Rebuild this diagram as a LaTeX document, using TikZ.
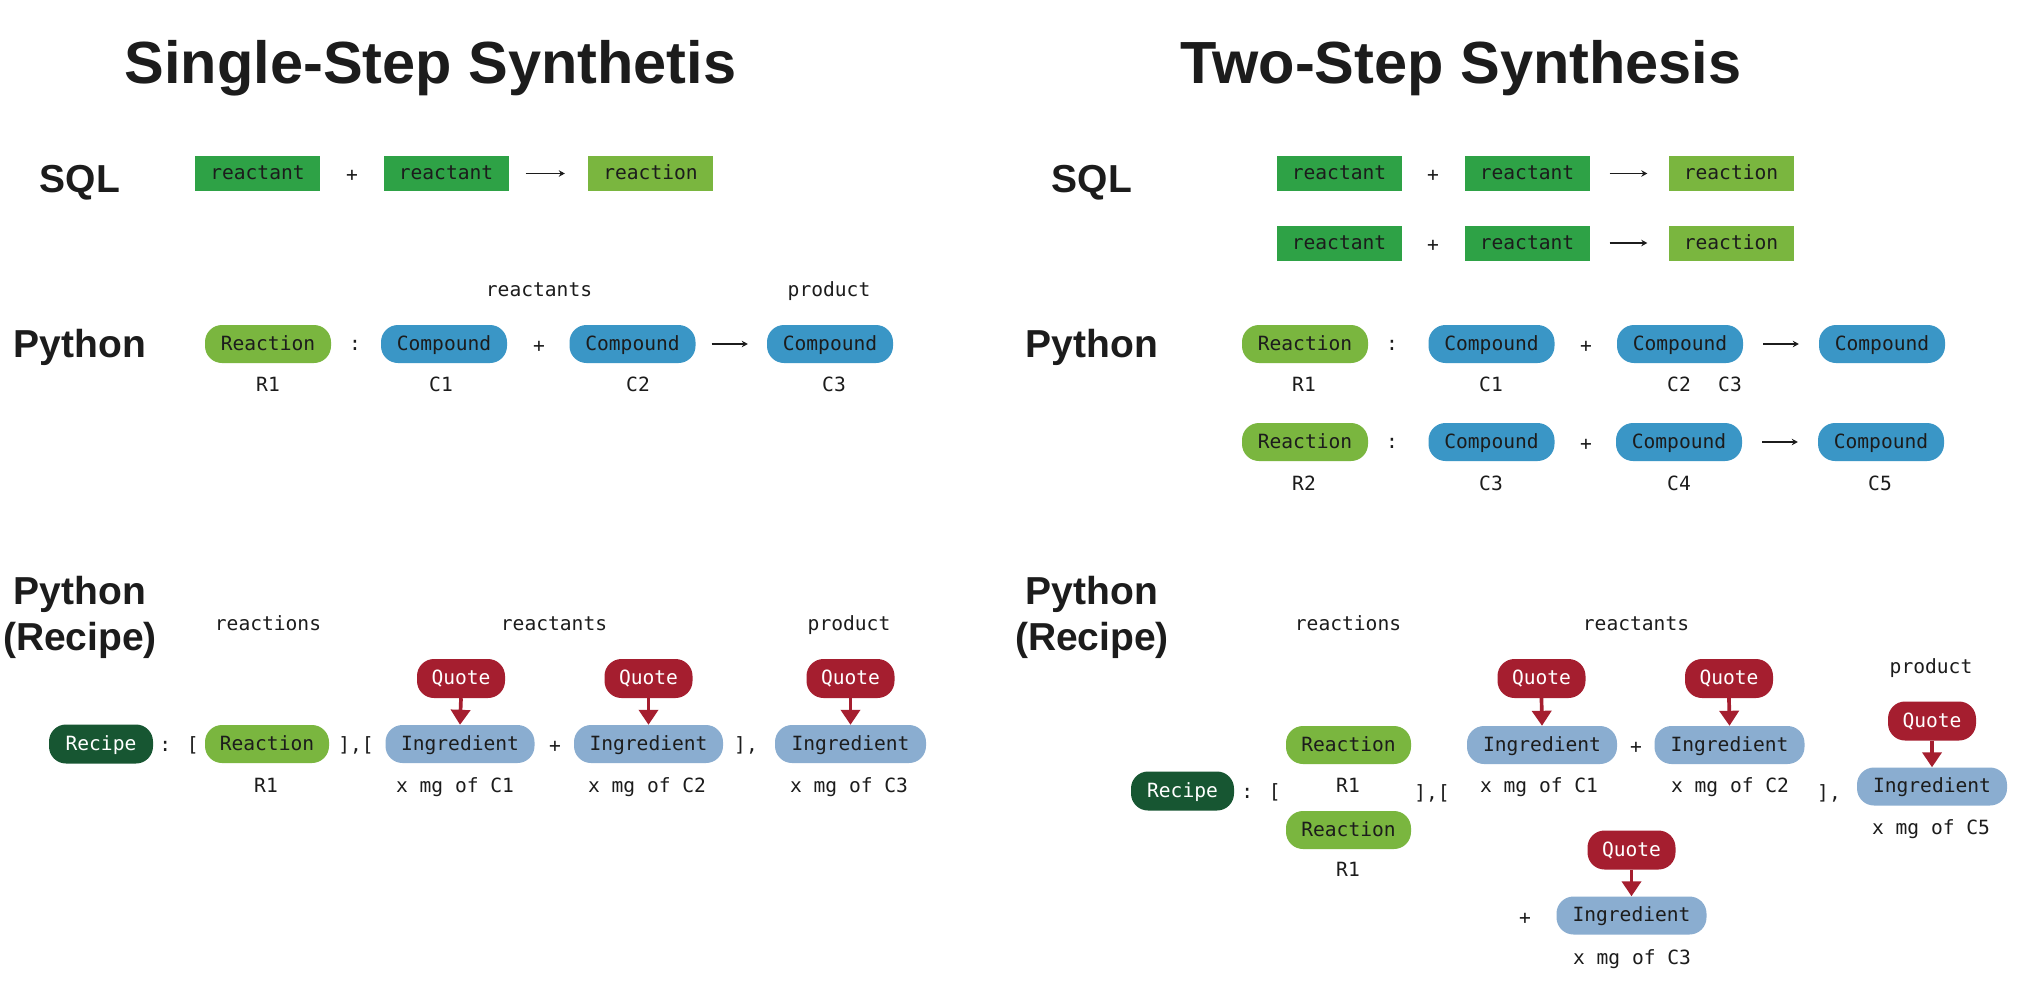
\documentclass[tikz,border=0pt]{standalone}
\usepackage{fontspec}
\newfontfamily\hel{Liberation Sans}
\newfontfamily\mono{DejaVu Sans Mono}
\usetikzlibrary{arrows.meta}
\definecolor{ink}{HTML}{1C1C1C}
\definecolor{sqlg}{HTML}{2EA246}
\definecolor{rxng}{HTML}{7AB63F}
\definecolor{cmpb}{HTML}{3A96C6}
\definecolor{ingb}{HTML}{8AADD0}
\definecolor{qred}{HTML}{A51E2F}
\definecolor{recg}{HTML}{175632}
\begin{document}
\begin{tikzpicture}[x=1pt,y=-1pt,
  mtxt/.style={font=\mono\fontsize{19.6}{23}\selectfont, text height=15pt, text depth=3pt, inner sep=0pt, text=ink},
  sqlbox/.style={mtxt, rectangle, minimum width=125pt, minimum height=35pt},
  sqlr/.style={sqlbox, fill=sqlg},
  sqlx/.style={sqlbox, fill=rxng},
  pill/.style={mtxt, rounded corners=17pt, minimum height=38pt},
  rxn/.style={pill, fill=rxng, minimum width=126pt},
  cmp/.style={pill, fill=cmpb, minimum width=126pt},
  ing/.style={pill, fill=ingb, minimum width=149pt},
  quote/.style={pill, fill=qred, text=white, minimum width=88pt, minimum height=39pt},
  recipe/.style={pill, fill=recg, text=white, minimum width=104pt, minimum height=39pt},
  ttl/.style={font=\hel\bfseries\fontsize{59.5}{70}\selectfont, anchor=base, inner sep=0pt, text=ink},
  rowlbl/.style={font=\hel\bfseries\fontsize{39}{46}\selectfont, anchor=base, inner sep=0pt, text=ink},
  sqlarr/.style={-{Stealth[length=6pt,width=6.5pt]}, line width=1.8pt, draw=ink},
  qarr/.style={-{Triangle[length=15pt,width=19pt]}, line width=3.7pt, draw=qred}
]
\fill[white] (0,0) rectangle (2018,1001);
\useasboundingbox (0,0) rectangle (2018,1001);

% ---------- titles ----------
\node[ttl] (t1) at (430.5,83) {Single-Step Synthetis};
\node[ttl] (t2) at (1461,83) {Two-Step Synthesis};

% ---------- row labels ----------
\node[rowlbl] (lsql) at (80,192) {SQL};
\node[rowlbl] (lpy) at (80,357) {Python};
\node[rowlbl] (lrec1) at (80,604) {Python};
\node[rowlbl] (lrec2) at (80,650) {(Recipe)};
\node[rowlbl] (rsql) at (1092,192) {SQL};
\node[rowlbl] (rpy) at (1092,357) {Python};
\node[rowlbl] (rrec1) at (1092,604) {Python};
\node[rowlbl] (rrec2) at (1092,650) {(Recipe)};

% ================= LEFT =================
% SQL
\node[sqlr] (ls1) at (257.5,173.5) {reactant};
\node[mtxt] (lsp) at (352,175) {+};
\node[sqlr] (ls2) at (446,173.5) {reactant};
\node[sqlx] (ls3) at (650.5,173.5) {reaction};
\draw[sqlarr, shorten <=17pt, shorten >=23pt] (ls2.east) -- (ls3.west);

% Python
\node[mtxt] (lreactants) at (539,290) {reactants};
\node[mtxt] (lproduct) at (829,290) {product};
\node[rxn] (lpr) at (268,344) {Reaction};
\node[mtxt] (lpc) at (355,344) {:};
\node[cmp] (lpc1) at (444,344) {Compound};
\node[mtxt] (lpp) at (539,346) {+};
\node[cmp] (lpc2) at (632.5,344) {Compound};
\node[cmp] (lpc3) at (830,344) {Compound};
\draw[sqlarr, shorten <=16pt, shorten >=19pt] (lpc2.east) -- (lpc3.west);
\node[mtxt] (lplR1) at (268,385) {R1};
\node[mtxt] (lplC1) at (441,385) {C1};
\node[mtxt] (lplC2) at (638,385) {C2};
\node[mtxt] (lplC3) at (834,385) {C3};

% Recipe
\node[mtxt] (lreactions) at (268,624) {reactions};
\node[mtxt] (lreactants2) at (554,624) {reactants};
\node[mtxt] (lproduct2) at (849,624) {product};
\node[recipe] (lrecipe) at (101,744) {Recipe};
\node[mtxt] (lcolon) at (179,745) {: [};
\node[rxn, minimum width=124pt] (lrr) at (267,744) {Reaction};
\node[mtxt] (lsep1) at (356,745) {],[};
\node[ing] (li1) at (460,744) {Ingredient};
\node[mtxt] (lplus) at (555,746) {+};
\node[ing] (li2) at (648.5,744) {Ingredient};
\node[mtxt] (lsep2) at (746,745) {],};
\node[ing, minimum width=151pt] (li3) at (850.5,744) {Ingredient};
\node[quote] (lq1) at (461,678.5) {Quote};
\node[quote] (lq2) at (648.5,678.5) {Quote};
\node[quote] (lq3) at (850.5,678.5) {Quote};
\draw[qarr] (lq1.south) -- (li1.north);
\draw[qarr] (lq2.south) -- (li2.north);
\draw[qarr] (lq3.south) -- (li3.north);
\node[mtxt] (llR1) at (266,786) {R1};
\node[mtxt] (llC1) at (455,786) {x mg of C1};
\node[mtxt] (llC2) at (647,786) {x mg of C2};
\node[mtxt] (llC3) at (849,786) {x mg of C3};

% ================= RIGHT =================
% SQL
\node[sqlr] (rs1) at (1339,173.5) {reactant};
\node[mtxt] (rsp) at (1433,175) {+};
\node[sqlr] (rs2) at (1527,173.5) {reactant};
\node[sqlx] (rs3) at (1731,173.5) {reaction};
\draw[sqlarr, shorten <=20pt, shorten >=21pt] (rs2.east) -- (rs3.west);
\node[sqlr] (rt1) at (1339,243) {reactant};
\node[mtxt] (rtp) at (1433,245) {+};
\node[sqlr] (rt2) at (1527,243) {reactant};
\node[sqlx] (rt3) at (1731,243) {reaction};
\draw[sqlarr, shorten <=20pt, shorten >=21pt] (rt2.east) -- (rt3.west);

% Python row 1
\node[rxn] (rpr) at (1305,344) {Reaction};
\node[mtxt] (rpc) at (1392,344) {:};
\node[cmp] (rpc1) at (1491.5,344) {Compound};
\node[mtxt] (rpp) at (1586,346) {+};
\node[cmp] (rpc2) at (1680,344) {Compound};
\node[cmp] (rpc3) at (1882,344) {Compound};
\draw[sqlarr, shorten <=20pt, shorten >=20pt] (rpc2.east) -- (rpc3.west);
\node[mtxt] (rplR1) at (1304,385) {R1};
\node[mtxt] (rplC1) at (1491,385) {C1};
\node[mtxt] (rplC2) at (1679,385) {C2};
\node[mtxt] (rplC3) at (1730,385) {C3};

% Python row 2
\node[rxn] (rqr) at (1305,442) {Reaction};
\node[mtxt] (rqc) at (1392,442) {:};
\node[cmp] (rqc1) at (1491.5,442) {Compound};
\node[mtxt] (rqp) at (1586,444) {+};
\node[cmp] (rqc2) at (1679,442) {Compound};
\node[cmp] (rqc3) at (1881,442) {Compound};
\draw[sqlarr, shorten <=20pt, shorten >=20pt] (rqc2.east) -- (rqc3.west);
\node[mtxt] (rqlR2) at (1304,484) {R2};
\node[mtxt] (rqlC3) at (1491,484) {C3};
\node[mtxt] (rqlC4) at (1679,484) {C4};
\node[mtxt] (rqlC5) at (1880,484) {C5};

% Recipe
\node[mtxt] (rreactions) at (1348,624) {reactions};
\node[mtxt] (rreactants) at (1636,624) {reactants};
\node[mtxt] (rproduct) at (1931,667) {product};
\node[recipe, minimum width=103pt] (rrecipe) at (1182.5,791) {Recipe};
\node[mtxt] (rcolon) at (1261,792) {: [};
\node[rxn, minimum width=125pt] (rr1) at (1348.5,745) {Reaction};
\node[mtxt] (rr1l) at (1348,786) {R1};
\node[rxn, minimum width=125pt] (rr2) at (1348.5,830) {Reaction};
\node[mtxt] (rr2l) at (1348,870) {R1};
\node[mtxt] (rsep1) at (1432,793) {],[};
\node[ing, minimum width=150pt] (ri1) at (1542,745) {Ingredient};
\node[mtxt] (rplus1) at (1636,747) {+};
\node[ing, minimum width=150pt] (ri2) at (1729.5,745) {Ingredient};
\node[quote] (rq1) at (1541.5,678.5) {Quote};
\node[quote] (rq2) at (1729,678.5) {Quote};
\draw[qarr] (rq1.south) -- (ri1.north);
\draw[qarr] (rq2.south) -- (ri2.north);
\node[mtxt] (rlC1) at (1539,786) {x mg of C1};
\node[mtxt] (rlC2) at (1730,786) {x mg of C2};
\node[mtxt] (rsep2) at (1829,793) {],};
\node[quote] (rq3) at (1932,721) {Quote};
\node[ing, minimum width=150pt] (ri3) at (1932,786.5) {Ingredient};
\draw[qarr] (rq3.south) -- (ri3.north);
\node[mtxt] (rlC5) at (1931,828) {x mg of C5};
\node[quote] (rq4) at (1631.5,850) {Quote};
\node[ing, minimum width=150pt] (ri4) at (1631.5,915.5) {Ingredient};
\draw[qarr] (rq4.south) -- (ri4.north);
\node[mtxt] (rplus2) at (1525,918) {+};
\node[mtxt] (rlC3) at (1632,958) {x mg of C3};
\end{tikzpicture}
\end{document}
